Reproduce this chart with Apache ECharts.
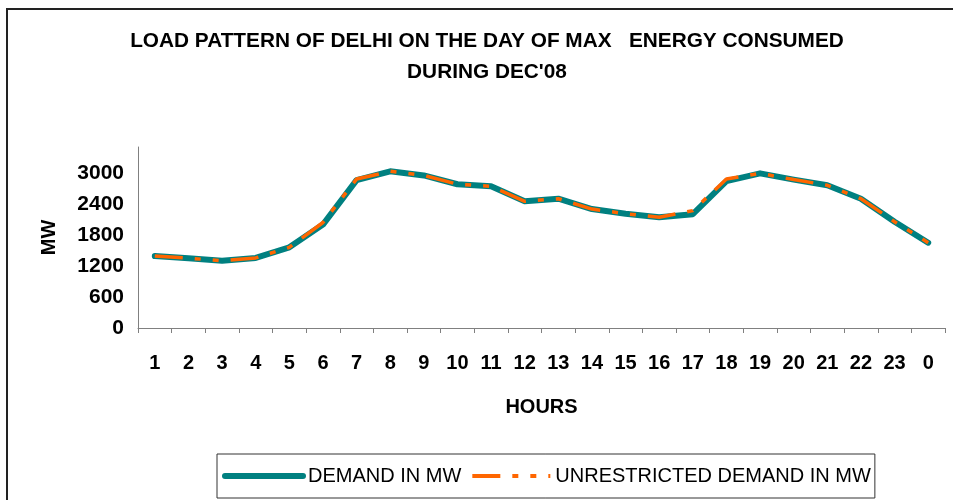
<!DOCTYPE html>
<html>
<head>
<meta charset="utf-8">
<script src="https://cdn.jsdelivr.net/npm/echarts@6/dist/echarts.min.js"></script>
<style>
  html, body { margin: 0; padding: 0; background: #fff; }
  #chart { width: 953px; height: 500px; }
</style>
</head>
<body>
<div id="chart"></div>
<script>
// hours of the day (x axis)
var hours = ['1', '2', '3', '4', '5', '6', '7', '8', '9', '10', '11', '12',
  '13', '14', '15', '16', '17', '18', '19', '20', '21', '22', '23', '0'];
// MW values
var demand = [1390, 1350, 1300, 1355, 1560, 2000, 2860, 3030, 2950, 2780, 2740, 2450,
  2500, 2300, 2210, 2140, 2200, 2840, 2990, 2870, 2760, 2500, 2055, 1650];
var unrestricted = [1390, 1350, 1300, 1355, 1560, 2040, 2880, 3030, 2950, 2780, 2740, 2450,
  2500, 2300, 2210, 2140, 2270, 2880, 2990, 2870, 2760, 2500, 2055, 1650];

var font = '"Liberation Sans", Arial, sans-serif';
var teal = '#008080';
var orange = '#FF6600';
var dash = [28, 12, 6, 12, 6, 12];

var myChart = echarts.init(document.getElementById('chart'));
var option = {
  backgroundColor: '#fff',
  animation: false,
  title: {
    text: "LOAD PATTERN OF DELHI ON THE DAY OF MAX   ENERGY CONSUMED\nDURING DEC'08",
    left: 487,
    textAlign: 'center',
    top: 26,
    padding: 0,
    textStyle: {
      fontFamily: font,
      fontSize: 20.8,
      fontWeight: 'bold',
      color: '#000',
      lineHeight: 31
    }
  },
  graphic: [
    {
      // outer frame, only its top and left edges fall inside the picture
      type: 'rect',
      shape: { x: 7, y: 9, width: 1000, height: 1000 },
      style: { fill: 'none', stroke: '#222', lineWidth: 2 },
      silent: true
    }
  ],
  legend: {
    left: 217,
    top: 454,
    padding: [12, 4, 12, 5],
    itemGap: 9,
    itemWidth: 78,
    itemHeight: 14,
    borderColor: '#333',
    borderWidth: 1,
    itemStyle: { color: 'rgba(0,0,0,0)', borderWidth: 0, opacity: 0 },
    textStyle: { fontFamily: font, fontSize: 20, color: '#000' },
    data: [
      { name: 'DEMAND IN MW', lineStyle: { color: teal, width: 6, cap: 'round' } },
      { name: 'UNRESTRICTED DEMAND IN MW', lineStyle: { color: orange, width: 4, type: dash } }
    ]
  },
  grid: {
    left: 138,
    right: 8,
    top: 147,
    bottom: 172,
    containLabel: false
  },
  xAxis: {
    type: 'category',
    data: hours,
    boundaryGap: true,
    name: 'HOURS',
    nameLocation: 'middle',
    nameGap: 69,
    nameTextStyle: { fontFamily: font, fontSize: 20, fontWeight: 'bold', color: '#000' },
    axisLine: { lineStyle: { color: '#808080', width: 1 } },
    axisTick: { show: true, length: 5, lineStyle: { color: '#808080' } },
    axisLabel: {
      interval: 0,
      margin: 25,
      fontFamily: font,
      fontSize: 20,
      fontWeight: 'bold',
      color: '#000'
    },
    splitLine: { show: false }
  },
  yAxis: {
    type: 'value',
    min: 0,
    max: 3500,
    interval: 600,
    name: 'MW',
    nameLocation: 'middle',
    nameGap: 79,
    nameRotate: 90,
    nameTextStyle: { fontFamily: font, fontSize: 20, fontWeight: 'bold', color: '#000' },
    axisLine: { show: true, lineStyle: { color: '#808080', width: 1 } },
    axisTick: { show: false },
    axisLabel: {
      margin: 14,
      showMaxLabel: false,
      formatter: function (v) { return String(v); },
      fontFamily: font,
      fontSize: 21,
      fontWeight: 'bold',
      color: '#000'
    },
    splitLine: { show: false }
  },
  series: [
    {
      name: 'DEMAND IN MW',
      type: 'line',
      data: demand,
      symbol: 'none',
      color: teal,
      lineStyle: { color: teal, width: 6, cap: 'round', join: 'round' },
      z: 2
    },
    {
      name: 'UNRESTRICTED DEMAND IN MW',
      type: 'line',
      data: unrestricted,
      symbol: 'none',
      color: orange,
      lineStyle: { color: orange, width: 3.5, type: dash },
      z: 3
    }
  ]
};
myChart.setOption(option);
</script>
</body>
</html>
